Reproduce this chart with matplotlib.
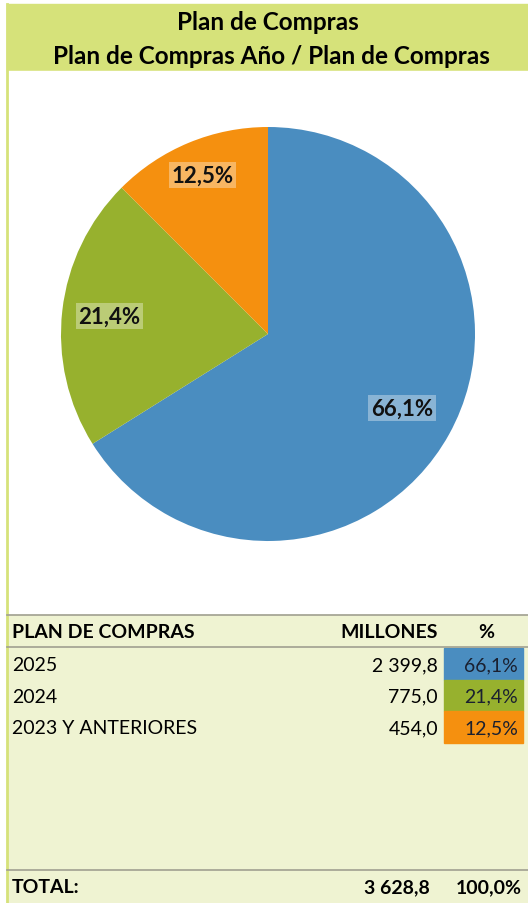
import numpy as np
import matplotlib.pyplot as plt
from matplotlib.patches import Rectangle

plt.rcParams['font.family'] = ['Lato', 'DejaVu Sans']

# data
categorias = ["2025", "2024", "2023 Y ANTERIORES"]
millones = [2399.8, 775.0, 454.0]
porcentajes = [66.1, 21.4, 12.5]
total_millones = 3628.8
colores = ["#4a8dc0", "#97b12e", "#f5900f"]
label_dist = [0.74, 0.77, 0.83]

W, H = 528, 904
fig = plt.figure(figsize=(W / 100, H / 100), dpi=100)

# background canvas in pixel coords
bg = fig.add_axes([0, 0, 1, 1])
bg.set_xlim(0, W)
bg.set_ylim(H, 0)
bg.axis("off")

bg.add_patch(Rectangle((7, 5), W - 7, 67, color="#d6e27a", zorder=0))
bg.add_patch(Rectangle((7, 72), W - 7, 544, color="white", zorder=0))
bg.add_patch(Rectangle((7, 616), W - 7, H - 616, color="#eff3d2", zorder=0))
bg.plot([7, 7], [5, H], color="#d6e27a", lw=2)

bg.text(268, 23, "Plan de Compras", ha="center", va="center", fontsize=17.5, fontweight="bold")
bg.text(271, 57, "Plan de Compras Año / Plan de Compras", ha="center", va="center",
        fontsize=17.5, fontweight="bold")

# table
bg.plot([7, W], [616, 616], color="#a0a090", lw=1.2)
bg.plot([7, W], [648, 648], color="#a0a090", lw=1.2)
bg.plot([7, W], [871, 871], color="#a0a090", lw=1.2)
fs = 14
bg.text(12, 633, "PLAN DE COMPRAS", ha="left", va="center", fontsize=fs, fontweight="bold")
bg.text(438, 633, "MILLONES", ha="right", va="center", fontsize=fs, fontweight="bold")
bg.text(486, 633, "%", ha="center", va="center", fontsize=fs, fontweight="bold")

row_top = 649
row_h = 31.5
for i, (cat, m, p, c) in enumerate(zip(categorias, millones, porcentajes, colores)):
    y0 = row_top + i * row_h
    yc = y0 + row_h / 2 + 1
    bg.add_patch(Rectangle((444, y0), 79, row_h, color=c, zorder=1))
    mtxt = f"{m:,.1f}".replace(",", " ").replace(".", ",")
    bg.text(12, yc, cat, ha="left", va="center", fontsize=fs)
    bg.text(438, yc, mtxt, ha="right", va="center", fontsize=fs)
    bg.text(518, yc, f"{p:.1f}%".replace(".", ","), ha="right", va="center", fontsize=fs,
            color="#1a2030", zorder=2)

ttxt = f"{total_millones:,.1f}".replace(",", " ").replace(".", ",")
bg.text(12, 888, "TOTAL:", ha="left", va="center", fontsize=fs, fontweight="bold")
bg.text(430, 888, ttxt, ha="right", va="center", fontsize=fs, fontweight="bold")
bg.text(522, 888, "100,0%", ha="right", va="center", fontsize=fs, fontweight="bold")

# pie
cx, cy, r = 268, 335, 207
ax = fig.add_axes([(cx - r) / W, 1 - (cy + r) / H, 2 * r / W, 2 * r / H])
wedges, texts, autotexts = ax.pie(
    porcentajes, colors=colores, startangle=90, counterclock=False,
    autopct=lambda v: f"{v:.1f}%".replace(".", ","), pctdistance=0.75,
    wedgeprops=dict(linewidth=0),
    textprops=dict(fontsize=16, fontweight="bold", color="#111111"))
for w, t, d in zip(wedges, autotexts, label_dist):
    ang = np.deg2rad((w.theta1 + w.theta2) / 2)
    t.set_position((d * np.cos(ang), d * np.sin(ang)))
    t.set_bbox(dict(facecolor="white", alpha=0.35, edgecolor="none", pad=2))
ax.set_xlim(-1, 1)
ax.set_ylim(-1, 1)
ax.set_aspect("equal")

fig.savefig("out.png", dpi=100)
